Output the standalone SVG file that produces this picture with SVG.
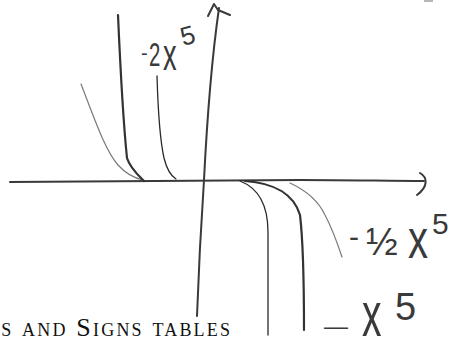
<svg xmlns="http://www.w3.org/2000/svg" width="449" height="341" viewBox="0 0 449 341">
<style>
.ax{fill:none;stroke:#3a3a3a;stroke-width:2;stroke-linecap:round;stroke-linejoin:round}
.c{fill:none;stroke:#2a2a2a;stroke-width:1.3;stroke-linecap:round}
.cl{fill:none;stroke:#7a7a7a;stroke-width:1.2;stroke-linecap:round}
.ct{fill:none;stroke:#333;stroke-width:2.2;stroke-linecap:round}
.hw{font-family:"Liberation Sans",Arial,sans-serif;fill:#3a3a3a}
.cap{font-family:"Liberation Serif","Times New Roman",serif;fill:#111;font-variant:small-caps}
</style>
<rect width="449" height="341" fill="#fff"/>
<g id="connectors">
  <path id="x-axis" class="ax" d="M10,182 C100,182 200,181 300,180 C350,180 390,181 424,181"/>
  <path id="x-arrow" class="ax" stroke-width="1.6" d="M420,173 C427,177 429,186 417,195"/>
  <path id="y-axis" class="ax" d="M197,316 C199,260 202,210 204,180 C207,120 213,50 219,8"/>
  <path id="y-arrow" class="ax" stroke-width="1.6" d="M208,16 L214,4 L218,10 L230,15"/>
</g>
<g id="curve-half-left">
  <path class="cl" d="M81,84 C95,120 105,150 118,165 C126,174 134,178 143,180"/>
</g>
<g id="curve-one-left">
  <path class="ct" d="M118,15 C120,60 123,120 127,158 C130,168 138,175 144,181"/>
</g>
<g id="curve-two-left">
  <path class="c" d="M157,76 C158,110 160,140 164,158 C167,170 171,176 176,179"/>
</g>
<g id="curve-two-right">
  <path class="c" d="M240,181 C258,188 268,205 268,232 C268,270 268,305 268,335"/>
</g>
<g id="curve-one-right">
  <path class="ct" d="M245,181 C275,183 294,195 300,215 C303,240 304,290 304,330"/>
</g>
<g id="curve-half-right">
  <path class="cl" d="M290,183 C305,190 318,200 325,215 C333,230 338,245 342,257"/>
</g>
<g id="label-2x5">
  <text class="hw" x="141" y="60" font-size="20">-</text>
  <text class="hw" transform="translate(149,66) scale(0.6,1)" font-size="34">2</text>
  <text class="hw" transform="translate(163,70) scale(0.85,1.4)" font-size="32">x</text>
  <text class="hw" transform="translate(183,46) rotate(-15)" font-size="26">5</text>
</g>
<g id="label-half-x5">
  <text class="hw" x="349" y="247" font-size="30">-</text>
  <text class="hw" x="366" y="255" font-size="38">½</text>
  <text class="hw" transform="translate(408,258) scale(1,1.4)" font-size="40">x</text>
  <text class="hw" x="432" y="234" font-size="30">5</text>
</g>
<g id="label-x5">
  <text class="hw" transform="translate(324,334) scale(1.8,1)" font-size="24">–</text>
  <text class="hw" transform="translate(362,336) scale(1.3,2.1)" font-size="30">x</text>
  <text class="hw" x="395" y="320" font-size="38">5</text>
</g>
<path d="M424,1 L433,1" stroke="#888" stroke-width="1.2"/>
<text class="cap" x="-12" y="336" font-size="26" textLength="242" lengthAdjust="spacing">ts and Signs tables</text>
</svg>
